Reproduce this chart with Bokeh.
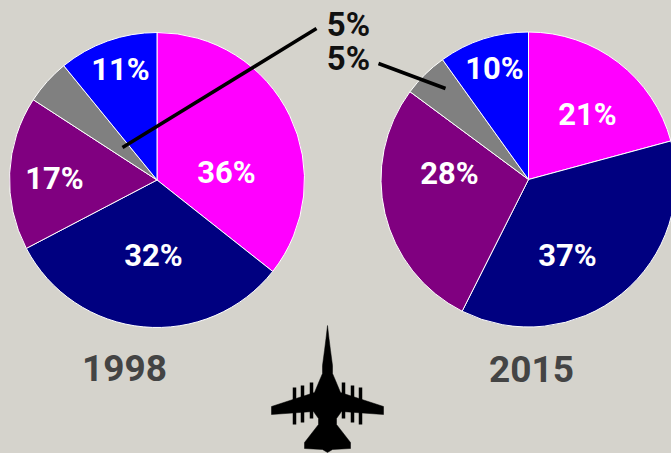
import math
from bokeh.plotting import figure
from bokeh.embed import file_html
from bokeh.resources import INLINE
from bokeh.core.properties import value

BG = "#d5d3cc"
FONT = "Roboto"
years = ["1998", "2015"]
share_1998 = [36, 32, 17, 5, 11]
share_2015 = [21, 37, 28, 5, 10]
colors = ["#ff00ff", "#000080", "#800080", "#808080", "#0000ff"]

W, H = 671, 453
# pixel-like data coordinates: y measured from the top of the picture
def Y(v):
    return H - v

p = figure(width=W, height=H, x_range=(0, W), y_range=(0, H),
           output_backend="svg", toolbar_location=None, min_border=0,
           background_fill_color=BG, border_fill_color=BG, outline_line_color=None)
p.axis.visible = False
p.grid.visible = False

def pie(vals, cx, cy, r):
    total = sum(vals)
    start, end = [], []
    c = 0
    for v in vals:
        start.append(math.pi / 2 - 2 * math.pi * (c + v) / total)
        end.append(math.pi / 2 - 2 * math.pi * c / total)
        c += v
    p.wedge(x=[cx] * len(vals), y=[Y(cy)] * len(vals), radius=r, start_angle=start,
            end_angle=end, fill_color=colors, line_color="white", line_width=1)

pie(share_1998, 156.5, 179.5, 147.5)
pie(share_2015, 528, 179, 147.5)

def label(x, y, s, color, size):
    p.text(x=[x], y=[Y(y)], text=[s], text_color=color, text_font=value(FONT),
           text_font_style="bold", text_font_size=size, text_align="center",
           text_baseline="middle")

for x, y, v in zip([226, 153, 54, 120], [172, 255, 178, 69], share_1998[:3] + share_1998[4:]):
    label(x, y, f"{v}%", "white", "31px")
for x, y, v in zip([587, 567, 449, 494], [114, 255, 173, 68], share_2015[:3] + share_2015[4:]):
    label(x, y, f"{v}%", "white", "31px")
label(348, 24, f"{share_1998[3]}%", "#111111", "33px")
label(348, 58, f"{share_2015[3]}%", "#111111", "33px")
label(124, 367, years[0], "#444444", "37px")
label(531, 368, years[1], "#444444", "37px")

p.line([316, 122], [Y(28), Y(147)], line_color="black", line_width=3.5)
p.line([378, 445], [Y(63), Y(88)], line_color="black", line_width=3.5)

# aircraft silhouette, half outline mirrored around its axis
PX = 327
half = [(0, 325), (1.5, 338), (3, 350), (5, 365), (5, 373), (8, 380), (13, 392),
        (56, 406), (56, 414), (14, 411), (9, 418), (9, 424), (23, 442), (23, 448), (5, 449), (0, 452)]
xs = [PX + a for a, b in half] + [PX - a for a, b in reversed(half)]
ys = [Y(b) for a, b in half] + [Y(b) for a, b in reversed(half)]
p.patch(xs, ys, fill_color="black", line_color="black", line_width=0.5)
for dx, top, bot in [(33, 387, 424), (25, 385, 422), (16, 382, 418)]:
    for s in (-1, 1):
        p.line([PX + s * dx] * 2, [Y(top), Y(bot)], line_color="black", line_width=3.5)

html = file_html(p, INLINE)
html = html.replace("<head>", "<head><style>html,body{background:%s;overflow:hidden}</style>" % BG, 1)
open("out.html", "w").write(html)
